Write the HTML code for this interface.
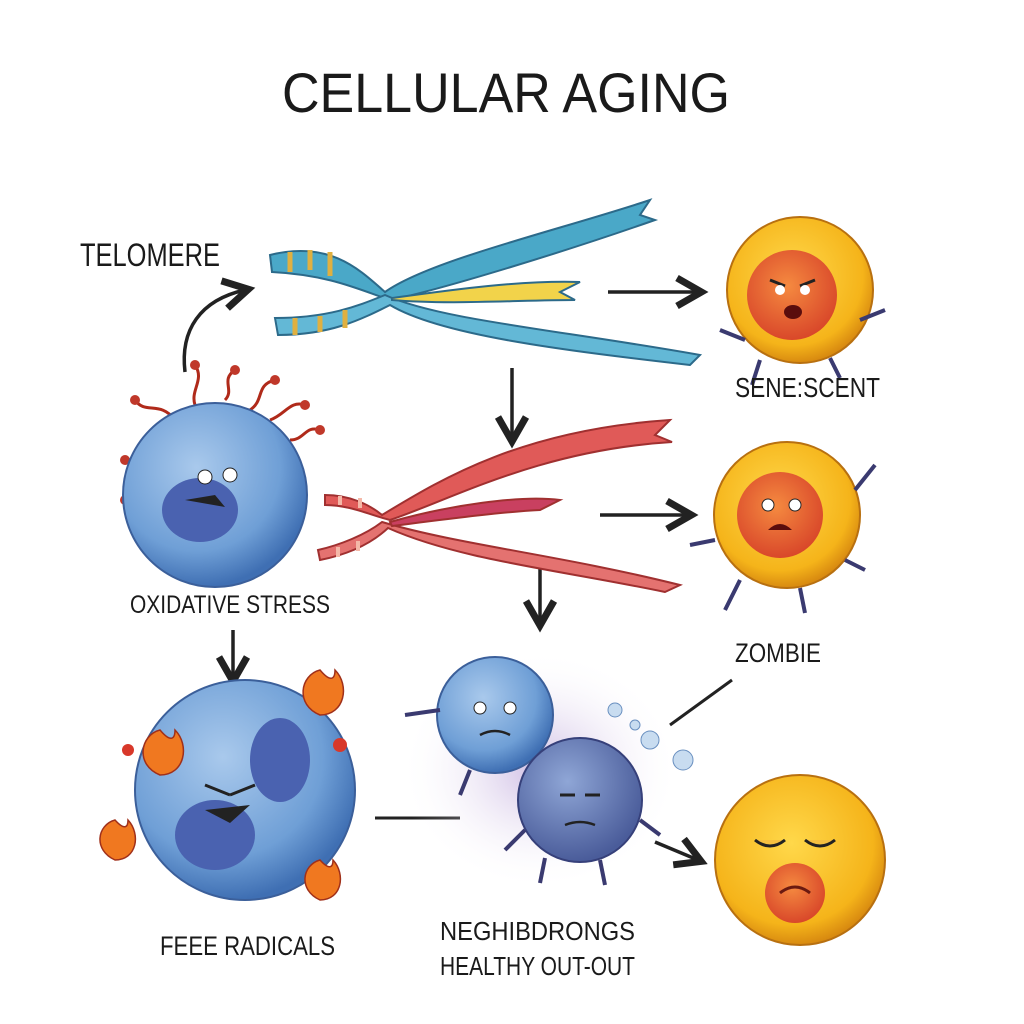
<!DOCTYPE html>
<html><head><meta charset="utf-8"><style>
html,body{margin:0;padding:0;background:#fff;}
svg{display:block}
text{font-family:"Liberation Sans",sans-serif;fill:#1a1a1a}
</style></head><body>
<svg width="1024" height="1024" viewBox="0 0 1024 1024" xmlns="http://www.w3.org/2000/svg">
<defs>
<radialGradient id="yel" cx="45%" cy="40%" r="60%"><stop offset="0" stop-color="#ffd84a"/><stop offset="0.8" stop-color="#f5b41a"/><stop offset="1" stop-color="#d88a10"/></radialGradient>
<radialGradient id="org" cx="45%" cy="40%" r="60%"><stop offset="0" stop-color="#f58a40"/><stop offset="1" stop-color="#d9482a"/></radialGradient>
<radialGradient id="blu" cx="40%" cy="35%" r="65%"><stop offset="0" stop-color="#a9c9ec"/><stop offset="0.7" stop-color="#6f9fd6"/><stop offset="1" stop-color="#3f6fb3"/></radialGradient>
<radialGradient id="blu2" cx="40%" cy="35%" r="65%"><stop offset="0" stop-color="#8fa6d6"/><stop offset="1" stop-color="#4a5c9a"/></radialGradient>
<radialGradient id="glow" cx="50%" cy="50%" r="50%"><stop offset="0" stop-color="#b9a0d8" stop-opacity="0.7"/><stop offset="1" stop-color="#fff" stop-opacity="0"/></radialGradient>
<marker id="ah" markerWidth="10" markerHeight="10" refX="7" refY="5" orient="auto"><path d="M1,1 L8,5 L1,9" fill="none" stroke="#222" stroke-width="2"/></marker>
</defs>

<text x="282" y="112" font-size="56" textLength="448" lengthAdjust="spacingAndGlyphs">CELLULAR AGING</text>
<text x="80" y="266" font-size="32" textLength="140" lengthAdjust="spacingAndGlyphs">TELOMERE</text>

<!-- top chromosome -->
<g stroke="#2c6a8a" stroke-width="2">
<path d="M270,255 C330,240 360,270 385,292 C430,260 560,230 650,200 L640,215 L655,220 C570,250 440,290 390,300 C360,290 330,275 272,272 Z" fill="#4aa8c8"/>
<path d="M275,318 C330,318 360,305 385,295 C440,320 560,330 700,355 L690,365 C560,350 440,335 390,305 C360,320 330,335 278,335 Z" fill="#63b8d6"/>
<path d="M392,298 C450,290 520,280 580,282 L560,292 L575,300 C520,300 450,305 392,300 Z" fill="#f2d34a"/>
</g>
<g stroke="#e0b040" stroke-width="5"><line x1="290" y1="252" x2="290" y2="272"/><line x1="310" y1="250" x2="310" y2="270"/><line x1="330" y1="252" x2="330" y2="276"/><line x1="295" y1="318" x2="295" y2="335"/><line x1="320" y1="316" x2="320" y2="332"/><line x1="345" y1="310" x2="345" y2="328"/></g>

<!-- arrows -->
<path d="M185,372 C180,330 200,300 245,290" fill="none" stroke="#222" stroke-width="3.5" marker-end="url(#ah)"/>
<line x1="608" y1="292" x2="698" y2="292" stroke="#222" stroke-width="3.5" marker-end="url(#ah)"/>
<line x1="512" y1="368" x2="512" y2="438" stroke="#222" stroke-width="3.5" marker-end="url(#ah)"/>
<line x1="600" y1="515" x2="688" y2="515" stroke="#222" stroke-width="3.5" marker-end="url(#ah)"/>
<line x1="540" y1="568" x2="540" y2="622" stroke="#222" stroke-width="3.5" marker-end="url(#ah)"/>
<line x1="233" y1="630" x2="233" y2="678" stroke="#222" stroke-width="3.5" marker-end="url(#ah)"/>
<line x1="375" y1="818" x2="460" y2="818" stroke="#222" stroke-width="3"/>
<line x1="670" y1="725" x2="732" y2="680" stroke="#222" stroke-width="3"/>
<line x1="655" y1="842" x2="698" y2="860" stroke="#222" stroke-width="3.5" marker-end="url(#ah)"/>

<!-- yellow cell 1 -->
<g><circle cx="800" cy="290" r="73" fill="url(#yel)" stroke="#b87010" stroke-width="2"/>
<circle cx="792" cy="295" r="45" fill="url(#org)"/>
<path d="M770,280 l15,6 M815,280 l-15,6" stroke="#222" stroke-width="3"/>
<circle cx="780" cy="290" r="5" fill="#fff"/><circle cx="805" cy="290" r="5" fill="#fff"/>
<ellipse cx="793" cy="312" rx="9" ry="7" fill="#5a0d0d"/>
<path d="M745,340 l-25,-10 M760,360 l-8,25 M830,358 l10,20 M860,320 l25,-10" stroke="#3a3a70" stroke-width="4" fill="none"/></g>
<text x="735" y="397" font-size="28" textLength="145" lengthAdjust="spacingAndGlyphs">SENE:SCENT</text>

<!-- red ribbon -->
<g stroke="#a03030" stroke-width="2">
<path d="M325,495 C350,495 370,505 382,515 C440,480 520,430 670,420 L655,435 L672,442 C540,450 450,500 390,520 C370,515 350,505 325,505 Z" fill="#e05a58"/>
<path d="M318,550 C340,545 365,535 382,522 C460,545 560,555 680,585 L665,592 C560,570 460,560 388,528 C370,545 345,555 320,560 Z" fill="#e47270"/>
<path d="M390,522 C450,505 520,495 560,500 L540,510 C500,512 440,520 392,526 Z" fill="#c94060"/>
</g>
<g stroke="#f4b8a8" stroke-width="4"><line x1="340" y1="496" x2="340" y2="505"/><line x1="360" y1="498" x2="360" y2="508"/><line x1="338" y1="547" x2="338" y2="557"/><line x1="358" y1="541" x2="358" y2="551"/></g>

<!-- oxidative stress cell -->
<g stroke="#b02a1a" stroke-width="3" fill="none">
<path d="M175,420 c-15,-20 -30,-5 -40,-20"/><path d="M195,405 c-5,-15 10,-25 0,-40"/><path d="M225,400 c10,-10 -5,-20 10,-30"/><path d="M250,410 c15,-10 5,-25 25,-30"/><path d="M270,420 c15,-5 20,-20 35,-15"/><path d="M160,450 c-15,0 -20,15 -35,10"/><path d="M290,440 c15,0 15,-15 30,-10"/><path d="M155,480 c-15,5 -15,20 -30,20"/>
</g>
<g fill="#c0382a"><circle cx="135" cy="400" r="5"/><circle cx="195" cy="365" r="5"/><circle cx="235" cy="370" r="5"/><circle cx="275" cy="380" r="5"/><circle cx="305" cy="405" r="5"/><circle cx="125" cy="460" r="5"/><circle cx="320" cy="430" r="5"/><circle cx="125" cy="500" r="5"/></g>
<circle cx="215" cy="495" r="92" fill="url(#blu)" stroke="#3b5f9a" stroke-width="2"/>
<ellipse cx="200" cy="510" rx="38" ry="32" fill="#4a62b0"/>
<circle cx="205" cy="477" r="7" fill="#fff" stroke="#222"/><circle cx="230" cy="475" r="7" fill="#fff" stroke="#222"/>
<path d="M185,500 l30,-5 l10,12 z" fill="#222"/>
<text x="130" y="613" font-size="25" textLength="200" lengthAdjust="spacingAndGlyphs">OXIDATIVE STRESS</text>

<!-- yellow cell 2 -->
<g><circle cx="787" cy="515" r="73" fill="url(#yel)" stroke="#b87010" stroke-width="2"/>
<circle cx="780" cy="515" r="43" fill="url(#org)"/>
<circle cx="768" cy="505" r="6" fill="#fff" stroke="#222"/><circle cx="795" cy="505" r="6" fill="#fff" stroke="#222"/>
<path d="M768,530 q12,-12 24,0 z" fill="#5a0d0d"/>
<path d="M715,540 l-25,5 M740,580 l-15,30 M800,588 l5,25 M845,560 l20,10 M855,490 l20,-25" stroke="#3a3a70" stroke-width="4" fill="none"/></g>
<text x="735" y="662" font-size="27" textLength="86" lengthAdjust="spacingAndGlyphs">ZOMBIE</text>

<!-- big blue cell with flames -->
<circle cx="245" cy="790" r="110" fill="url(#blu)" stroke="#3b5f9a" stroke-width="2"/>
<ellipse cx="215" cy="835" rx="40" ry="35" fill="#4a62b0"/>
<ellipse cx="280" cy="760" rx="30" ry="42" fill="#4a62b0"/>
<path d="M205,785 l25,10 M255,785 l-25,10" stroke="#222" stroke-width="3"/>
<path d="M205,810 l45,-5 l-20,18 z" fill="#222"/>
<g fill="#f07820" stroke="#a0301a" stroke-width="1.5">
<path d="M160,730 c-20,5 -25,35 0,45 c25,0 30,-30 15,-45 c0,10 -5,12 -15,0 z"/>
<path d="M320,670 c-20,5 -25,35 0,45 c25,0 30,-30 15,-45 c0,10 -5,12 -15,0 z"/>
<path d="M115,820 c-18,5 -22,30 0,40 c22,0 26,-26 13,-40 c0,8 -4,10 -13,0 z"/>
<path d="M320,860 c-18,5 -22,30 0,40 c22,0 26,-26 13,-40 c0,8 -4,10 -13,0 z"/>
</g>
<g fill="#d8382a"><circle cx="128" cy="750" r="6"/><circle cx="340" cy="745" r="7"/></g>
<text x="160" y="955" font-size="27" textLength="175" lengthAdjust="spacingAndGlyphs">FEEE RADICALS</text>

<!-- blue zombie cells -->
<ellipse cx="540" cy="770" rx="140" ry="120" fill="url(#glow)"/>
<circle cx="495" cy="715" r="58" fill="url(#blu)" stroke="#3b5f9a" stroke-width="2"/>
<circle cx="480" cy="708" r="6" fill="#fff" stroke="#222"/><circle cx="510" cy="708" r="6" fill="#fff" stroke="#222"/>
<path d="M480,735 q15,-8 30,0" stroke="#222" stroke-width="2.5" fill="none"/>
<circle cx="580" cy="800" r="62" fill="url(#blu2)" stroke="#36407a" stroke-width="2"/>
<path d="M560,795 l15,0 M585,795 l15,0" stroke="#222" stroke-width="3"/>
<path d="M565,825 q15,-6 30,0" stroke="#222" stroke-width="2.5" fill="none"/>
<g stroke="#3a3a70" stroke-width="4" fill="none"><path d="M440,710 l-35,5"/><path d="M470,770 l-10,25"/><path d="M525,830 l-20,20"/><path d="M545,858 l-5,25"/><path d="M600,860 l5,25"/><path d="M640,820 l20,15"/></g>
<g fill="#c8dcf0" stroke="#6a90c0"><circle cx="615" cy="710" r="7"/><circle cx="650" cy="740" r="9"/><circle cx="683" cy="760" r="10"/><circle cx="635" cy="725" r="5"/></g>
<text x="440" y="940" font-size="26" textLength="195" lengthAdjust="spacingAndGlyphs">NEGHIBDRONGS</text>
<text x="440" y="975" font-size="26" textLength="195" lengthAdjust="spacingAndGlyphs">HEALTHY OUT-OUT</text>

<!-- yellow cell 3 -->
<circle cx="800" cy="860" r="85" fill="url(#yel)" stroke="#b87010" stroke-width="2"/>
<path d="M755,840 q15,12 30,0 M805,840 q15,12 30,0" stroke="#222" stroke-width="3" fill="#f5c040"/>
<circle cx="795" cy="893" r="30" fill="url(#org)"/>
<path d="M780,893 q15,-12 30,0" stroke="#6a1a10" stroke-width="3" fill="none"/>
</svg>
</body></html>
